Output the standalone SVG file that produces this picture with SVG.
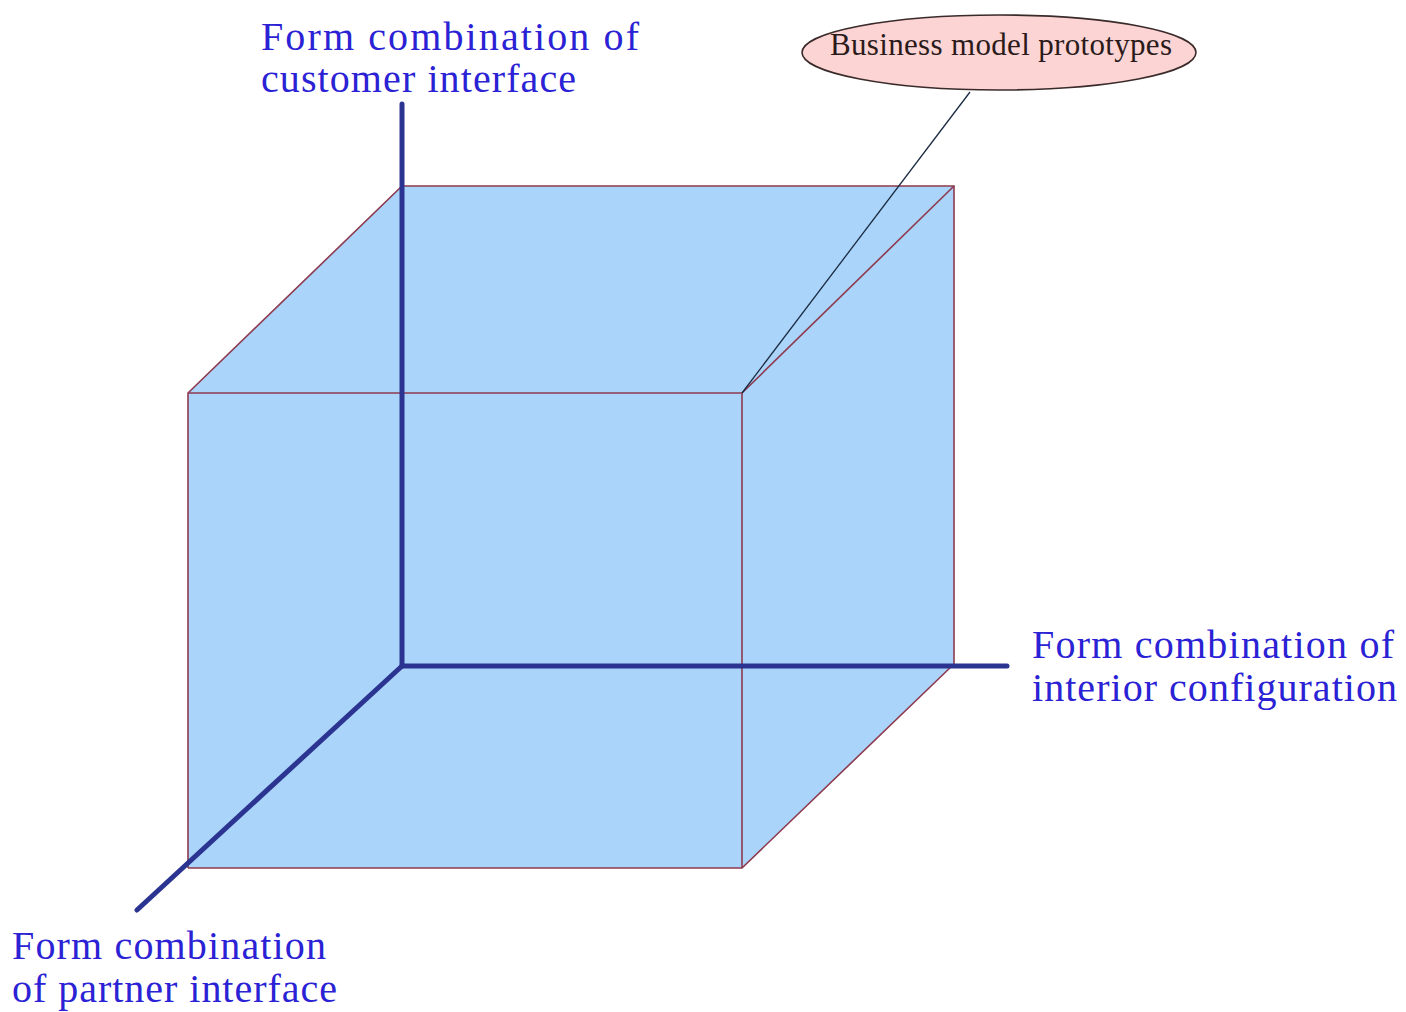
<svg xmlns="http://www.w3.org/2000/svg" width="1406" height="1012" viewBox="0 0 1406 1012">
<style>
.lbl{font-family:"Liberation Serif","Times New Roman",serif;font-size:40px;fill:#2a22d4}
.edge{fill:none;stroke:#8e3a4e;stroke-width:1.6}
.axis{fill:none;stroke:#2b3591;stroke-width:5;stroke-linecap:round}
</style>
<rect width="1406" height="1012" fill="#ffffff"/>
<g id="cube">
<polygon points="188,393 402,186 954,186 954,664 742,868 188,868" fill="#aad4fa" stroke="none"/>
<polyline class="edge" points="188,868 188,393 402,186 954,186 954,664 742,868 188,868"/>
<polyline class="edge" points="188,393 742,393 742,868"/>
<line class="edge" x1="742" y1="393" x2="954" y2="186"/>
</g>
<g id="connectors">
<line class="axis" x1="402" y1="104" x2="402" y2="666"/>
<line class="axis" x1="402" y1="666" x2="1007" y2="666"/>
<line class="axis" x1="402" y1="666" x2="137" y2="910"/>
<line x1="970" y1="92" x2="742" y2="393" stroke="#1a2a40" stroke-width="1.3"/>
</g>
<g id="label-customer">
<text class="lbl" x="261" y="50" textLength="378" lengthAdjust="spacing">Form combination of</text>
<text class="lbl" x="261" y="92" textLength="315" lengthAdjust="spacing">customer interface</text>
</g>
<g id="label-interior">
<text class="lbl" x="1032" y="658" textLength="362" lengthAdjust="spacing">Form combination of</text>
<text class="lbl" x="1032" y="701" textLength="365" lengthAdjust="spacing">interior configuration</text>
</g>
<g id="label-partner">
<text class="lbl" x="12" y="959" textLength="314" lengthAdjust="spacing">Form combination</text>
<text class="lbl" x="12" y="1002" textLength="325" lengthAdjust="spacing">of partner interface</text>
</g>
<g id="prototypes">
<ellipse cx="999" cy="52.5" rx="197" ry="37.5" fill="#fcd4d4" stroke="#3a2a2a" stroke-width="1.6"/>
<text x="1001" y="55" text-anchor="middle" font-family="Liberation Serif,'Times New Roman',serif" font-size="31" fill="#2a1a1a" textLength="342" lengthAdjust="spacing">Business model prototypes</text>
</g>
</svg>
